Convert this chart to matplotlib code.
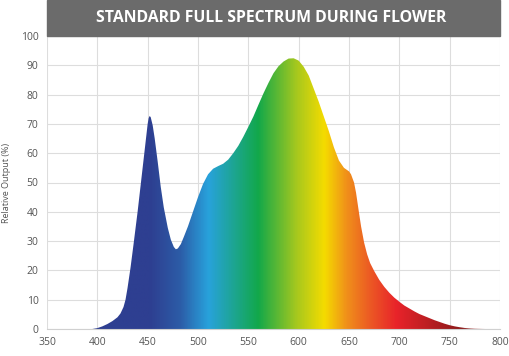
import numpy as np
import matplotlib
matplotlib.use("Agg")
import matplotlib.pyplot as plt
from matplotlib.colors import LinearSegmentedColormap
from matplotlib.patches import Rectangle

# spectrum (nm, relative output %)
wavelength = [395, 400, 405, 410, 415, 420, 423, 426, 428, 430, 433, 436, 440,
              443, 446, 448, 450, 451, 452, 453, 455, 457, 460, 463, 466, 470,
              473, 476, 478, 480, 483, 486, 490, 495, 500, 505, 510, 515, 520,
              525, 530, 535, 540, 545, 550, 555, 560, 565, 570, 575, 580, 585,
              590, 595, 600, 605, 610, 615, 620, 625, 630, 635, 640, 645, 650,
              652, 655, 657, 660, 662, 665, 668, 671, 675, 680, 685, 690, 695,
              700, 705, 710, 715, 720, 725, 730, 735, 740, 745, 750, 755, 760,
              765, 770, 775, 780, 785]
output = [0, 0.3, 0.9, 1.7, 2.7, 4.0, 5.3, 7.5, 10, 14, 21, 29, 40,
          49, 58, 64, 70, 72, 72.7, 72.3, 69.5, 65, 57, 48.5, 41.5, 34.5,
          30.5, 28, 27.2, 27.5, 29, 31.5, 35, 40, 45, 49.5, 52.8, 54.7, 55.6,
          56.4, 57.8, 60, 62.5, 65.6, 69, 72.5, 76.5, 80.4, 84, 87.3, 89.7, 91.3,
          92.3, 92.4, 91.6, 89.5, 86.5, 82, 77.5, 72.5, 67.5, 62, 57.5, 55, 53.8,
          52.8, 50, 46.5, 39.5, 35, 29.5, 25.5, 22.5, 19.8, 16.8, 14.4, 12.4, 10.7,
          9.3, 8, 7, 6, 5.1, 4.4, 3.7, 3, 2.4, 1.8, 1.3, 0.9, 0.6,
          0.35, 0.2, 0.1, 0.05, 0]

# colour stops along the wavelength axis
stop_nm = [350, 452, 482, 510, 560, 598, 626, 648, 671, 698, 763, 800]
stop_colors = ['#2e3f91', '#2e3f91', '#2c5ca7', '#28a2dc', '#12a84a', '#a6c81e',
               '#f5dc00', '#f0901a', '#ec5a24', '#e8232a', '#8b1a1a', '#e8b0b0']

xticks = list(range(350, 801, 50))
yticks = list(range(0, 101, 10))

fig = plt.figure(figsize=(5.09, 3.56), dpi=100)
ax = fig.add_axes([47 / 509, 27 / 356, 453 / 509, 293 / 356])

cmap = LinearSegmentedColormap.from_list(
    'spec', [((n - 350) / 450, c) for n, c in zip(stop_nm, stop_colors)])
grad = np.linspace(0, 1, 900).reshape(1, -1)
img = ax.imshow(grad, cmap=cmap, aspect='auto', extent=[350, 800, 0, 100],
                origin='lower', zorder=2, interpolation='bilinear')
poly = ax.fill_between(wavelength, output, 0, color='none', lw=0)
img.set_clip_path(poly.get_paths()[0], transform=ax.transData)

ax.set_xlim(350, 800)
ax.set_ylim(0, 100)
ax.set_xticks(xticks)
ax.set_yticks(yticks)
ax.grid(True, color='#dddddd', lw=0.8, zorder=0)
ax.set_axisbelow(True)
for s in ['top', 'right', 'left']:
    ax.spines[s].set_visible(False)
ax.spines['bottom'].set_color('#d0d0d0')
ax.tick_params(length=0, labelsize=7.5, labelcolor='#555555', pad=6)
ax.set_ylabel('Relative Output (%)', fontsize=6.5, color='#555555',
              family='Open Sans')
ax.yaxis.set_label_coords(-36 / 453, 0.5)

# title banner
fig.patches.append(Rectangle((47 / 509, 320 / 356), 453 / 509, 36 / 356,
                             transform=fig.transFigure, color='#6b6b6b'))
fig.text(271 / 509, 338 / 356, 'STANDARD FULL SPECTRUM DURING FLOWER',
         ha='center', va='center', color='white', fontsize=11.3,
         fontweight='bold', family='Open Sans')

for lab in ax.get_xticklabels() + ax.get_yticklabels():
    lab.set_family('Open Sans')

fig.savefig('out.png', dpi=100)
